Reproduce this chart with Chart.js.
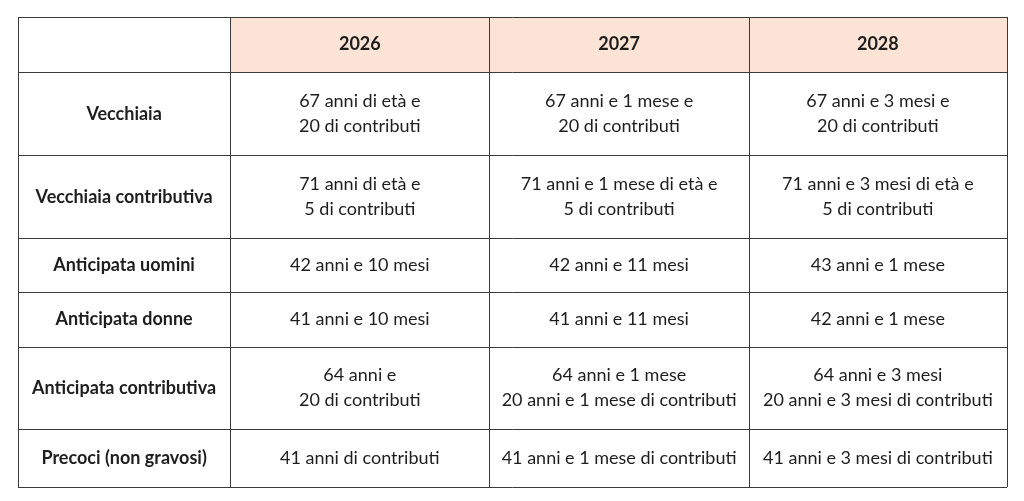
<!DOCTYPE html>
<html><head><meta charset="utf-8">
<script src="https://cdn.jsdelivr.net/npm/chart.js@4"></script>
<style>html,body{margin:0;padding:0;background:#fff}#wrap{width:1024px;height:501px}</style>
</head><body><div id="wrap"><canvas id="c"></canvas></div>
<script>
const years = ["2026", "2027", "2028"];
const rowLabels = ["Vecchiaia", "Vecchiaia contributiva", "Anticipata uomini", "Anticipata donne", "Anticipata contributiva", "Precoci (non gravosi)"];
const col2026 = ["67 anni di età e\n20 di contributi", "71 anni di età e\n5 di contributi", "42 anni e 10 mesi", "41 anni e 10 mesi", "64 anni e\n20 di contributi", "41 anni di contributi"];
const col2027 = ["67 anni e 1 mese e\n20 di contributi", "71 anni e 1 mese di età e\n5 di contributi", "42 anni e 11 mesi", "41 anni e 11 mesi", "64 anni e 1 mese\n20 anni e 1 mese di contributi", "41 anni e 1 mese di contributi"];
const col2028 = ["67 anni e 3 mesi e\n20 di contributi", "71 anni e 3 mesi di età e\n5 di contributi", "43 anni e 1 mese", "42 anni e 1 mese", "64 anni e 3 mesi\n20 anni e 3 mesi di contributi", "41 anni e 3 mesi di contributi"];
const colWeights = [212, 259, 259, 258];
const rowWeights = [55, 83, 83, 53, 55, 82, 58];

const colEdges = [0]; colWeights.forEach(w => colEdges.push(colEdges[colEdges.length-1] + w));
const rowEdges = [0]; rowWeights.forEach(h => rowEdges.push(rowEdges[rowEdges.length-1] + h));
const columns = [col2026, col2027, col2028];

const tablePlugin = {
  id: 'table',
  afterDatasetsDraw(chart) {
    const ctx = chart.ctx, xs = chart.scales.x, ys = chart.scales.y;
    const X = v => xs.getPixelForValue(v), Y = v => ys.getPixelForValue(v);
    ctx.save();
    ctx.fillStyle = '#fbe4d5';
    ctx.fillRect(X(colEdges[1]), Y(rowEdges[0]), X(colEdges[4]) - X(colEdges[1]), Y(rowEdges[1]) - Y(rowEdges[0]));
    ctx.strokeStyle = '#3a3a3a'; ctx.lineWidth = 1;
    colEdges.forEach(c => { const px = Math.round(X(c)) + 0.5; ctx.beginPath(); ctx.moveTo(px, Y(rowEdges[0])); ctx.lineTo(px, Y(rowEdges[rowEdges.length-1])); ctx.stroke(); });
    rowEdges.forEach(r => { const py = Math.round(Y(r)) + 0.5; ctx.beginPath(); ctx.moveTo(X(colEdges[0]), py); ctx.lineTo(X(colEdges[4]), py); ctx.stroke(); });
    ctx.textAlign = 'center'; ctx.textBaseline = 'middle'; ctx.fillStyle = '#1e1e1e';
    const cell = (ci, ri, text, bold) => {
      const cx = (X(colEdges[ci]) + X(colEdges[ci+1])) / 2;
      const cy = (Y(rowEdges[ri]) + Y(rowEdges[ri+1])) / 2;
      ctx.font = (bold ? 'bold ' : '') + '18px Lato';
      const lines = text.split('\n'), lh = 25;
      lines.forEach((l, i) => ctx.fillText(l, cx, cy + (i - (lines.length-1)/2) * lh));
    };
    years.forEach((y, i) => cell(i+1, 0, y, true));
    rowLabels.forEach((r, i) => cell(0, i+1, r, true));
    columns.forEach((col, ci) => col.forEach((t, ri) => cell(ci+1, ri+1, t, false)));
    ctx.restore();
  }
};

new Chart(document.getElementById('c'), {
  type: 'scatter',
  data: { datasets: [{ data: [] }] },
  options: {
    responsive: true, maintainAspectRatio: false, animation: false,
    layout: { padding: { left: 18, right: 17, top: 17, bottom: 14 } },
    plugins: { legend: { display: false }, tooltip: { enabled: false } },
    scales: {
      x: { type: 'linear', display: false, min: 0, max: colEdges[colEdges.length-1] },
      y: { type: 'linear', display: false, reverse: true, min: 0, max: rowEdges[rowEdges.length-1] }
    }
  },
  plugins: [tablePlugin]
});
</script></body></html>
